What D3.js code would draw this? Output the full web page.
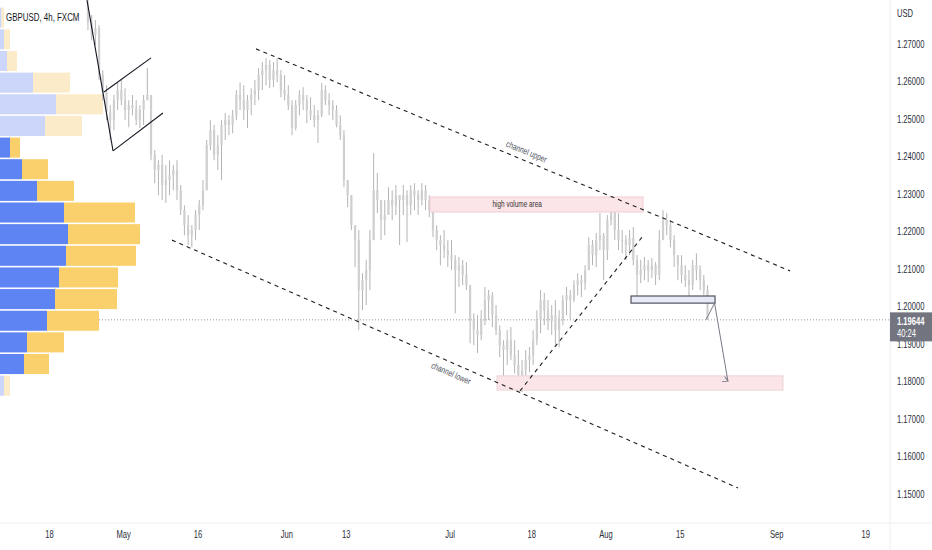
<!DOCTYPE html>
<html>
<head>
<meta charset="utf-8">
<script src="https://cdn.jsdelivr.net/npm/d3@7"></script>
<style>
body { margin: 0; background: #fff; overflow: hidden; }
svg { display: block; font-family: "Liberation Sans", Arial, sans-serif; }
</style>
</head>
<body>
<script>
var width = 932,
    height = 550;

var plotRight = 890,
    plotBottom = 523;

// the snapshot is squeezed sideways, so text is too
var squeeze = 0.76;

var title = 'GBPUSD, 4h, FXCM';
var currency = 'USD';

var priceTicks = [1.27, 1.26, 1.25, 1.24, 1.23, 1.22, 1.21, 1.20, 1.19, 1.18, 1.17, 1.16, 1.15];

var dateTicks = ['2022-04-18', '2022-05-02', '2022-05-16', '2022-06-01', '2022-06-13', '2022-07-01',
                 '2022-07-18', '2022-08-01', '2022-08-15', '2022-09-01', '2022-09-19'];
var dateLabels = ['18', 'May', '16', 'Jun', '13', 'Jul', '18', 'Aug', '15', 'Sep', '19'];

var lastPrice = 1.19644;
var countdown = '40:24';

// half-day bars from 2022-04-25
var barStart = '2022-04-25';
var firstOpen = 1.2800;
var barHigh = [
    1.2830, 1.2777, 1.2764, 1.2750, 1.2630, 1.2590, 1.2537, 1.2564, 1.2598, 1.2604,
    1.2582, 1.2550, 1.2564, 1.2550, 1.2537, 1.2564, 1.2636, 1.2564, 1.2417, 1.2390,
    1.2404, 1.2377, 1.2390, 1.2377, 1.2390, 1.2324, 1.2270, 1.2244, 1.2217, 1.2257,
    1.2284, 1.2337, 1.2444, 1.2497, 1.2484, 1.2457, 1.2497, 1.2516, 1.2510, 1.2524,
    1.2577, 1.2598, 1.2590, 1.2564, 1.2582, 1.2604, 1.2636, 1.2652, 1.2662, 1.2657,
    1.2652, 1.2662, 1.2630, 1.2617, 1.2590, 1.2550, 1.2550, 1.2577, 1.2585, 1.2564,
    1.2558, 1.2537, 1.2524, 1.2596, 1.2590, 1.2569, 1.2550, 1.2537, 1.2510, 1.2470,
    1.2337, 1.2297, 1.2217, 1.2204, 1.2089, 1.2124, 1.2204, 1.2409, 1.2356, 1.2284,
    1.2284, 1.2318, 1.2310, 1.2324, 1.2297, 1.2324, 1.2310, 1.2324, 1.2329, 1.2310,
    1.2329, 1.2324, 1.2297, 1.2257, 1.2217, 1.2190, 1.2204, 1.2177, 1.2177, 1.2137,
    1.2132, 1.2124, 1.2118, 1.2057, 1.1982, 1.1977, 1.1990, 1.2052, 1.2044, 1.2038,
    1.2004, 1.1950, 1.1910, 1.1937, 1.1945, 1.1910, 1.1884, 1.1857, 1.1884, 1.1892,
    1.1937, 1.1990, 1.2044, 1.2036, 1.2017, 1.2004, 1.2017, 1.1990, 1.2030, 1.2052,
    1.2044, 1.2070, 1.2089, 1.2084, 1.2110, 1.2185, 1.2177, 1.2196, 1.2249, 1.2196,
    1.2244, 1.2292, 1.2270, 1.2249, 1.2204, 1.2190, 1.2204, 1.2212, 1.2137, 1.2124,
    1.2132, 1.2124, 1.2129, 1.2118, 1.2204, 1.2257, 1.2249, 1.2230, 1.2190, 1.2137,
    1.2137, 1.2110, 1.2097, 1.2124, 1.2142, 1.2110, 1.2084, 1.2057
];
var barLow = [
    1.2737, 1.2710, 1.2697, 1.2604, 1.2550, 1.2497, 1.2444, 1.2470, 1.2524, 1.2537,
    1.2497, 1.2478, 1.2510, 1.2484, 1.2476, 1.2484, 1.2550, 1.2390, 1.2329, 1.2297,
    1.2284, 1.2276, 1.2297, 1.2310, 1.2284, 1.2244, 1.2190, 1.2164, 1.2158, 1.2177,
    1.2204, 1.2257, 1.2310, 1.2417, 1.2390, 1.2364, 1.2337, 1.2444, 1.2457, 1.2462,
    1.2497, 1.2524, 1.2497, 1.2476, 1.2510, 1.2537, 1.2550, 1.2577, 1.2590, 1.2582,
    1.2585, 1.2598, 1.2558, 1.2550, 1.2524, 1.2457, 1.2470, 1.2510, 1.2524, 1.2489,
    1.2497, 1.2478, 1.2436, 1.2505, 1.2537, 1.2510, 1.2497, 1.2478, 1.2444, 1.2318,
    1.2265, 1.2204, 1.2105, 1.1937, 1.1990, 1.2004, 1.2044, 1.2177, 1.2249, 1.2177,
    1.2190, 1.2244, 1.2230, 1.2244, 1.2164, 1.2244, 1.2172, 1.2244, 1.2257, 1.2244,
    1.2270, 1.2257, 1.2238, 1.2185, 1.2150, 1.2110, 1.2129, 1.2105, 1.2097, 1.1982,
    1.2052, 1.2057, 1.2044, 1.1902, 1.1897, 1.1876, 1.1910, 1.1950, 1.1964, 1.1945,
    1.1924, 1.1865, 1.1812, 1.1844, 1.1857, 1.1822, 1.1804, 1.1772, 1.1812, 1.1825,
    1.1844, 1.1897, 1.1929, 1.1950, 1.1937, 1.1924, 1.1892, 1.1892, 1.1950, 1.1977,
    1.1964, 1.2012, 1.2030, 1.2025, 1.2044, 1.2097, 1.2110, 1.2105, 1.2150, 1.2070,
    1.2124, 1.2217, 1.2177, 1.2150, 1.2142, 1.2124, 1.2137, 1.2110, 1.2025, 1.2062,
    1.2070, 1.2065, 1.2076, 1.2057, 1.2070, 1.2177, 1.2190, 1.2158, 1.2105, 1.2070,
    1.2062, 1.2052, 1.2012, 1.2044, 1.2070, 1.2044, 1.2030, 1.1964
];
var barClose = [
    1.2758, 1.2724, 1.2742, 1.2617, 1.2572, 1.2518, 1.2497, 1.2550, 1.2577, 1.2550,
    1.2524, 1.2537, 1.2529, 1.2497, 1.2524, 1.2550, 1.2564, 1.2404, 1.2364, 1.2377,
    1.2324, 1.2337, 1.2350, 1.2364, 1.2310, 1.2257, 1.2217, 1.2190, 1.2204, 1.2244,
    1.2270, 1.2310, 1.2430, 1.2470, 1.2404, 1.2430, 1.2484, 1.2497, 1.2484, 1.2510,
    1.2564, 1.2550, 1.2524, 1.2550, 1.2564, 1.2577, 1.2617, 1.2630, 1.2644, 1.2604,
    1.2630, 1.2617, 1.2577, 1.2564, 1.2537, 1.2476, 1.2537, 1.2564, 1.2550, 1.2524,
    1.2510, 1.2497, 1.2510, 1.2577, 1.2550, 1.2537, 1.2524, 1.2484, 1.2457, 1.2337,
    1.2297, 1.2217, 1.2177, 1.2044, 1.2070, 1.2097, 1.2177, 1.2310, 1.2284, 1.2230,
    1.2244, 1.2284, 1.2270, 1.2297, 1.2284, 1.2297, 1.2270, 1.2310, 1.2297, 1.2284,
    1.2310, 1.2284, 1.2257, 1.2204, 1.2177, 1.2164, 1.2150, 1.2137, 1.2124, 1.2097,
    1.2110, 1.2084, 1.2057, 1.1964, 1.1937, 1.1924, 1.1964, 1.2017, 1.2030, 1.1977,
    1.1937, 1.1897, 1.1884, 1.1910, 1.1870, 1.1844, 1.1817, 1.1830, 1.1857, 1.1870,
    1.1910, 1.1964, 1.2017, 1.1990, 1.1964, 1.1977, 1.1937, 1.1964, 1.2017, 1.2030,
    1.2017, 1.2057, 1.2070, 1.2062, 1.2097, 1.2164, 1.2137, 1.2177, 1.2190, 1.2150,
    1.2230, 1.2257, 1.2204, 1.2177, 1.2177, 1.2164, 1.2182, 1.2124, 1.2084, 1.2097,
    1.2110, 1.2097, 1.2110, 1.2084, 1.2177, 1.2230, 1.2217, 1.2177, 1.2137, 1.2110,
    1.2084, 1.2070, 1.2057, 1.2110, 1.2097, 1.2070, 1.2044, 1.19644
];

// volume profile, 18 rows from top to bottom
var profileHigh = 1.2799,
    profileLow = 1.1760;
var upVolume   = [1.5, 4, 7, 33, 56, 45, 10, 22, 37, 64, 68, 66, 59, 55, 47, 27, 24, 4];
var downVolume = [2.5, 6, 10, 37, 47, 37, 10, 26, 37, 71, 72, 70, 59, 62, 52, 37, 25, 6];
var valueAreaRows = [6, 16];

// drawings, points are [trading day since Apr 18, price]
var poleLine = [[5.12, 1.2817], [8.63, 1.2415]];
var flagUpper = [[7.41, 1.2572], [13.75, 1.2663]];
var flagLower = [[8.63, 1.2415], [15.36, 1.2516]];
var channelUpper = [[27.9, 1.2687], [99.87, 1.2095]];
var channelLower = [[16.58, 1.2177], [92.86, 1.1516]];
var riseLine = [[63.48, 1.1775], [80.05, 1.2188]];
var projection = [[88.55, 1.1965], [89.7, 1.2009], [91.5, 1.1801]];
// boxes: [day from, day to, price top, price bottom]
var highVolumeBox = [51.35, 80.05, 1.2292, 1.2252];
var targetBox = [60.38, 98.92, 1.1815, 1.1777];
var breakBox = [78.44, 89.76, 1.2028, 1.2009];
var highVolumeLabel = [63.1, 1.2272];

function tradingDay(s) {
    var d = new Date('2022-04-18T00:00:00Z'),
        end = new Date(s + 'T00:00:00Z'),
        n = 0;
    while (d < end) {
        var w = d.getUTCDay();
        if (w !== 0 && w !== 6) n++;
        d.setUTCDate(d.getUTCDate() + 1);
    }
    return n;
}

var x = d3.scaleLinear()
    .domain([0, 110])
    .range([49, 865.2]);

var y = d3.scaleLinear()
    .domain([1.15, 1.27])
    .range([494, 44]);

var svg = d3.select('body')
    .append('svg')
    .attr('width', width)
    .attr('height', height);

var line = d3.line()
    .x(function(d) { return x(d[0]); })
    .y(function(d) { return y(d[1]); });

// last price dotted line (under the profile)
svg.append('line')
    .attr('x1', 0)
    .attr('x2', plotRight)
    .attr('y1', y(lastPrice))
    .attr('y2', y(lastPrice))
    .attr('stroke', '#9598a1')
    .attr('stroke-width', 1)
    .attr('stroke-dasharray', '1,2');

// volume profile
var rowStep = (profileHigh - profileLow) / upVolume.length;
var rows = upVolume.map(function(u, i) {
    return {
        top: profileHigh - i * rowStep,
        up: u,
        down: downVolume[i],
        inVA: i >= valueAreaRows[0] && i <= valueAreaRows[1]
    };
});

var vol = d3.scaleLinear()
    .domain([0, d3.max(rows, function(d) { return d.up + d.down; })])
    .range([0, 140]);

var rowH = y(profileHigh - rowStep) - y(profileHigh);

var profile = svg.append('g');
profile.selectAll('rect.up')
    .data(rows)
    .enter()
    .append('rect')
    .classed('up', true)
    .attr('x', 0)
    .attr('y', function(d) { return y(d.top) + 0.8; })
    .attr('width', function(d) { return vol(d.up); })
    .attr('height', rowH - 1.6)
    .style('fill', function(d) { return d.inVA ? '#5e83f2' : '#ccd5fa'; });

profile.selectAll('rect.down')
    .data(rows)
    .enter()
    .append('rect')
    .classed('down', true)
    .attr('x', function(d) { return vol(d.up); })
    .attr('y', function(d) { return y(d.top) + 0.8; })
    .attr('width', function(d) { return vol(d.down); })
    .attr('height', rowH - 1.6)
    .style('fill', function(d) { return d.inVA ? '#f9d06c' : '#fcebc8'; });

// candles
var startDay = tradingDay(barStart);
var bars = barClose.map(function(c, i) {
    return {
        day: startDay + (i + 0.5) / 2,
        open: i === 0 ? firstOpen : barClose[i - 1],
        high: barHigh[i],
        low: barLow[i],
        close: c
    };
});

var candles = svg.append('g');
candles.selectAll('line')
    .data(bars)
    .enter()
    .append('line')
    .attr('x1', function(d) { return x(d.day); })
    .attr('x2', function(d) { return x(d.day); })
    .attr('y1', function(d) { return y(d.high); })
    .attr('y2', function(d) { return y(d.low); })
    .attr('stroke', '#b4b4b4')
    .attr('stroke-width', 1);

candles.selectAll('rect')
    .data(bars)
    .enter()
    .append('rect')
    .attr('x', function(d) { return x(d.day) - 1.1; })
    .attr('y', function(d) { return y(Math.max(d.open, d.close)); })
    .attr('width', 2.2)
    .attr('height', function(d) { return Math.max(1, Math.abs(y(d.open) - y(d.close))); })
    .style('fill', '#cfcfcf');

// boxes
function box(b, fill, stroke, sw) {
    return svg.append('rect')
        .attr('x', x(b[0]))
        .attr('y', y(b[2]))
        .attr('width', x(b[1]) - x(b[0]))
        .attr('height', y(b[3]) - y(b[2]))
        .attr('fill', fill)
        .attr('stroke', stroke)
        .attr('stroke-width', sw);
}
box(highVolumeBox, '#fce5e8', '#f3cdd2', 1);
box(targetBox, '#fce5e8', '#ead3d6', 1);

// flag
[poleLine, flagUpper, flagLower].forEach(function(l) {
    svg.append('path')
        .attr('d', line(l))
        .attr('fill', 'none')
        .attr('stroke', '#131722')
        .attr('stroke-width', 1.1);
});

// channel and rising dashed lines
[channelUpper, channelLower, riseLine].forEach(function(l) {
    svg.append('path')
        .attr('d', line(l))
        .attr('fill', 'none')
        .attr('stroke', '#1e1e1e')
        .attr('stroke-width', 1.1)
        .attr('stroke-dasharray', '4,4');
});

box(breakBox, '#e6eaf7', '#50535e', 1.2);

// projection arrow
svg.append('defs').append('marker')
    .attr('id', 'arrow')
    .attr('viewBox', '0 0 10 10')
    .attr('refX', 8)
    .attr('refY', 5)
    .attr('markerWidth', 7)
    .attr('markerHeight', 7)
    .attr('orient', 25)
    .append('path')
    .attr('d', 'M1,1 L8,5 L1,9')
    .attr('fill', 'none')
    .attr('stroke', '#787b86')
    .attr('stroke-width', 1.4);

svg.append('path')
    .attr('d', line(projection))
    .attr('fill', 'none')
    .attr('stroke', '#787b86')
    .attr('stroke-width', 1)
    .attr('marker-end', 'url(#arrow)');

// labels
function slantLabel(l, text, offset) {
    var x0 = x(l[0][0]), y0 = y(l[0][1]),
        x1 = x(l[1][0]), y1 = y(l[1][1]);
    var a = Math.atan2(y1 - y0, x1 - x0);
    var cx = (x0 + x1) / 2 - Math.sin(a) * offset,
        cy = (y0 + y1) / 2 + Math.cos(a) * offset;
    svg.append('text')
        .attr('transform', 'translate(' + cx + ',' + cy + ') rotate(' + (a * 180 / Math.PI) + ') scale(' + squeeze + ',1)')
        .attr('text-anchor', 'middle')
        .attr('dy', '0.35em')
        .attr('font-size', 9)
        .attr('fill', '#50535e')
        .text(text);
}
slantLabel(channelUpper, 'channel upper', -9);
slantLabel(channelLower, 'channel lower', 10);

svg.append('text')
    .attr('transform', 'translate(' + x(highVolumeLabel[0]) + ',' + y(highVolumeLabel[1]) + ') scale(' + squeeze + ',1)')
    .attr('text-anchor', 'middle')
    .attr('dy', '0.35em')
    .attr('font-size', 8.5)
    .attr('fill', '#333')
    .text('high volume area');

// axes frame
svg.append('line')
    .attr('x1', plotRight).attr('x2', plotRight)
    .attr('y1', 0).attr('y2', height)
    .attr('stroke', '#eceef2');
svg.append('line')
    .attr('x1', 0).attr('x2', width)
    .attr('y1', plotBottom).attr('y2', plotBottom)
    .attr('stroke', '#eceef2');

var yAxis = svg.append('g')
    .attr('transform', 'translate(' + plotRight + ',0)')
    .call(d3.axisRight(y)
        .tickValues(priceTicks)
        .tickFormat(d3.format('.5f'))
        .tickSize(0)
        .tickPadding(0));
yAxis.select('.domain').remove();
yAxis.selectAll('text')
    .attr('x', 7 / squeeze)
    .attr('transform', 'scale(' + squeeze + ',1)')
    .attr('font-size', 10)
    .attr('font-family', '"Liberation Sans", Arial, sans-serif')
    .attr('fill', '#2a2e39');

var xAxis = svg.append('g')
    .attr('transform', 'translate(0,' + plotBottom + ')')
    .call(d3.axisBottom(x)
        .tickValues(dateTicks.map(tradingDay))
        .tickFormat(function(d, i) { return dateLabels[i]; })
        .tickSize(0)
        .tickPadding(8));
xAxis.select('.domain').remove();
xAxis.selectAll('.tick').each(function() {
    var t = d3.select(this);
    var tr = t.attr('transform');
    t.attr('transform', tr + ' scale(' + squeeze + ',1)');
});
xAxis.selectAll('text')
    .attr('font-size', 10)
    .attr('font-family', '"Liberation Sans", Arial, sans-serif')
    .attr('fill', '#2a2e39');

svg.append('text')
    .attr('transform', 'translate(897,13) scale(' + squeeze + ',1)')
    .attr('dy', '0.35em')
    .attr('font-size', 10)
    .attr('fill', '#2a2e39')
    .text(currency);

// last price tag
var tagY = y(lastPrice);
svg.append('rect')
    .attr('x', plotRight)
    .attr('y', tagY - 7.5)
    .attr('width', width - plotRight)
    .attr('height', 29)
    .attr('fill', '#72757f');
svg.append('text')
    .attr('transform', 'translate(897,' + (tagY + 1.7) + ') scale(' + squeeze + ',1)')
    .attr('dy', '0.35em')
    .attr('font-size', 10)
    .attr('font-weight', 'bold')
    .attr('fill', '#fff')
    .text(d3.format('.5f')(lastPrice));
svg.append('text')
    .attr('transform', 'translate(897,' + (tagY + 13.3) + ') scale(' + squeeze + ',1)')
    .attr('dy', '0.35em')
    .attr('font-size', 10)
    .attr('fill', '#fff')
    .text(countdown);

// title
svg.append('text')
    .attr('transform', 'translate(6,17) scale(0.72,1)')
    .attr('dy', '0.35em')
    .attr('font-size', 11)
    .attr('fill', '#131722')
    .text(title);
</script>
</body>
</html>
